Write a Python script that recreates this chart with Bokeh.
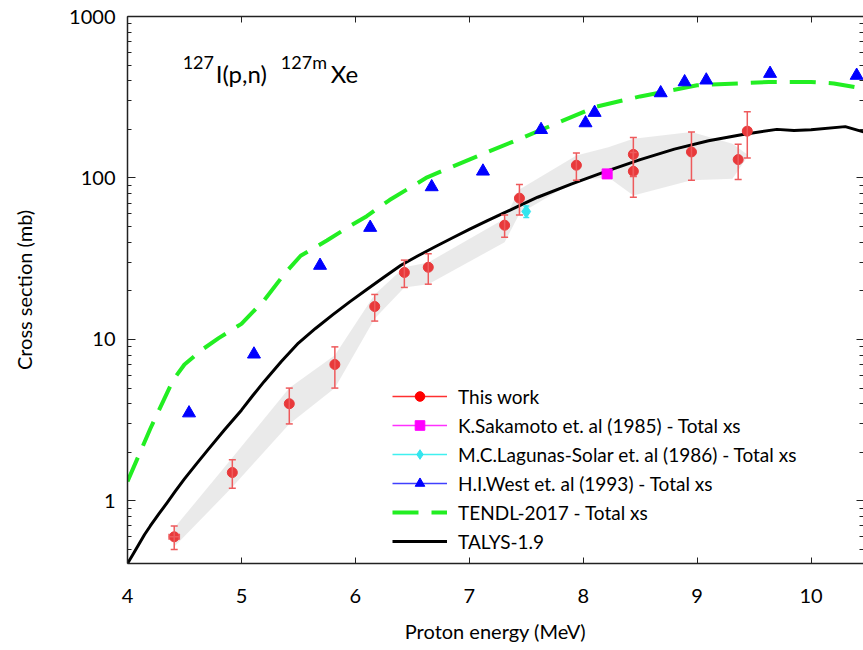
from bokeh.plotting import figure
from bokeh.models import (ColumnDataSource, Whisker, TeeHead, FixedTicker, LinearAxis, LogAxis,
                          CustomJSTickFormatter, Legend, LegendItem, Label, Range1d)
from bokeh.embed import file_html
from bokeh.resources import INLINE

# ---------------- data ----------------
this_work_x = [4.41, 4.92, 5.42, 5.82, 6.17, 6.43, 6.64, 7.31, 7.44, 7.94, 8.44, 8.44, 8.95, 9.36, 9.44]
this_work_y = [0.60, 1.5, 4.0, 7.0, 16.0, 26.0, 28.0, 51.0, 75.0, 120.0, 140.0, 110.0, 145.0, 130.0, 195.0]
this_work_err = [0.1, 0.3, 1.0, 2.0, 3.0, 5.0, 6.0, 8.0, 16.0, 23.0, 38.0, 34.0, 48.0, 32.0, 62.0]
this_work_xerr = [0.045, 0, 0, 0, 0, 0, 0, 0, 0, 0, 0, 0, 0, 0, 0]

band_x = [4.41, 4.92, 5.42, 5.82, 6.17, 6.43, 6.64, 7.31, 7.44, 7.94, 8.22, 8.44, 8.95, 9.31, 9.44]
band_lo = [0.52, 1.22, 3.0, 5.0, 13.5, 21.0, 22.0, 40.0, 60.0, 97.0, 101.0, 78.0, 97.0, 99.0, 135.0]
band_hi = [0.68, 1.85, 5.0, 8.0, 19.0, 28.0, 30.0, 56.0, 85.0, 138.0, 155.0, 175.0, 193.0, 163.0, 140.0]

sakamoto_x = [8.21]
sakamoto_y = [106.0]
sakamoto_err = [5.0]

lagunas_x = [7.50]
lagunas_y = [62.0]
lagunas_err = [5.0]

west_x = [4.54, 5.11, 5.69, 6.13, 6.67, 7.12, 7.63, 8.02, 8.10, 8.68, 8.89, 9.08, 9.64, 10.40]
west_y = [3.5, 8.1, 28.7, 49.3, 88.0, 110.0, 199.0, 219.0, 254.0, 336.0, 393.0, 403.0, 443.0, 431.0]

tendl_x = [4.0, 4.2, 4.4, 4.5, 4.65, 4.8, 5.0, 5.2, 5.38, 5.52, 5.75, 5.96, 6.1, 6.3, 6.63, 7.0,
           7.48, 8.11, 8.5, 9.0, 9.63, 10.0, 10.2, 10.47]
tendl_y = [1.32, 2.8, 5.6, 7.0, 8.6, 10.2, 12.5, 17.5, 25.6, 33.0, 41.0, 50.8, 58.0, 73.0, 101.0, 130.0,
           179.0, 276.0, 320.0, 375.0, 393.0, 393.0, 385.0, 357.0]

talys_x = [4.0, 4.05, 4.1, 4.15, 4.2, 4.28, 4.35, 4.42, 4.5, 4.6, 4.7, 4.85, 5.0, 5.1, 5.2, 5.35,
           5.5, 5.65, 5.8, 5.95, 6.1, 6.25, 6.4, 6.55, 6.7, 6.85, 7.0, 7.15, 7.3, 7.45, 7.6, 7.9,
           8.2, 8.5, 8.8, 9.1, 9.4, 9.7, 9.85, 10.0, 10.3, 10.47]
talys_y = [0.41, 0.47, 0.54, 0.62, 0.70, 0.84, 0.98, 1.15, 1.37, 1.68, 2.05, 2.75, 3.65, 4.5, 5.5, 7.3,
           9.5, 11.7, 14.2, 17.1, 20.4, 24.3, 28.8, 33.0, 37.5, 42.5, 48.0, 54.0, 60.5, 68.0, 76.0, 92.0,
           110.0, 130.0, 151.0, 170.0, 186.0, 200.0, 197.0, 199.0, 208.0, 192.0]

x_ticks = [4, 5, 6, 7, 8, 9, 10]
y_ticks = [1, 10, 100, 1000]
y_minor = [m * d for d in (0.1, 1, 10, 100) for m in range(2, 10)]

FONT = "Lato"
NAN = float("nan")

# ---------------- figure ----------------
p = figure(width=863, height=650, y_axis_type="log",
           x_range=Range1d(4, 10.46), y_range=Range1d(0.41, 1000),
           output_backend="svg", toolbar_location=None,
           min_border_left=127, min_border_right=0, min_border_top=16, min_border_bottom=87)
p.outline_line_color = None
p.xgrid.visible = False
p.ygrid.visible = False

# band
p.varea(x=band_x, y1=band_lo, y2=band_hi, fill_color="#E8E8E8", fill_alpha=0.9, level="underlay")

# curves
tendl_r = p.line(tendl_x, tendl_y, line_color="#22EE22", line_width=4, line_dash="26 13")
talys_r = p.line(talys_x, talys_y, line_color="black", line_width=3, line_join="round")

# error bars
red = "#E8393B"
red_err = "#EE5A5C"
tw_src = ColumnDataSource(dict(
    x=this_work_x, y=this_work_y,
    upper=[y + e for y, e in zip(this_work_y, this_work_err)],
    lower=[y - e for y, e in zip(this_work_y, this_work_err)],
))
p.add_layout(Whisker(source=tw_src, base="x", upper="upper", lower="lower", dimension="height",
                     line_color=red_err, line_width=1.5, level="glyph",
                     upper_head=TeeHead(size=7, line_color=red_err, line_width=1.5),
                     lower_head=TeeHead(size=7, line_color=red_err, line_width=1.5)))
xe = [(x, y, e) for x, y, e in zip(this_work_x, this_work_y, this_work_xerr) if e > 0]
txe_src = ColumnDataSource(dict(y=[v[1] for v in xe], left=[v[0] - v[2] for v in xe],
                                right=[v[0] + v[2] for v in xe]))
p.add_layout(Whisker(source=txe_src, base="y", upper="right", lower="left", dimension="width",
                     line_color=red_err, line_width=1.5, level="glyph",
                     upper_head=TeeHead(size=6, line_color=red_err, line_width=1.5),
                     lower_head=TeeHead(size=6, line_color=red_err, line_width=1.5)))

cyan = "#33E5EE"
lg_src = ColumnDataSource(dict(x=lagunas_x,
                               upper=[y + e for y, e in zip(lagunas_y, lagunas_err)],
                               lower=[y - e for y, e in zip(lagunas_y, lagunas_err)]))
p.add_layout(Whisker(source=lg_src, base="x", upper="upper", lower="lower", dimension="height",
                     line_color=cyan, line_width=1.5, level="glyph",
                     upper_head=TeeHead(size=6, line_color=cyan, line_width=1.5),
                     lower_head=TeeHead(size=6, line_color=cyan, line_width=1.5)))

# markers
p.scatter("x", "y", source=tw_src, marker="circle", size=10, fill_color=red, line_color=red)
p.scatter(sakamoto_x, sakamoto_y, marker="square", size=10, fill_color="#FF00FF", line_color="#FF00FF")
p.scatter(lagunas_x, lagunas_y, marker="diamond", size=13, fill_color=cyan, line_color=cyan)
p.scatter(west_x, west_y, marker="triangle", size=13, fill_color="#0000FF", line_color="#0000FF")

# legend-only glyphs (NaN data: nothing drawn in the plot)
def leg_line(color):
    return p.line([NAN], [NAN], line_color=color, line_width=1.5)

def leg_marker(marker, size, color):
    return p.scatter([NAN], [NAN], marker=marker, size=size, fill_color=color, line_color=color)

legend = Legend(items=[
    LegendItem(label="This work", renderers=[leg_line("#FF3030"), leg_marker("circle", 12, "#FF0000")]),
    LegendItem(label="K.Sakamoto et. al (1985) - Total xs",
               renderers=[leg_line("#FF30FF"), leg_marker("square", 9, "#FF00FF")]),
    LegendItem(label="M.C.Lagunas-Solar et. al (1986) - Total xs",
               renderers=[leg_line("#40F0F0"), leg_marker("diamond", 10, cyan)]),
    LegendItem(label="H.I.West et. al (1993) - Total xs",
               renderers=[leg_line("#4040FF"), leg_marker("triangle", 10, "#0000FF")]),
    LegendItem(label="TENDL-2017 - Total xs", renderers=[tendl_r]),
    LegendItem(label="TALYS-1.9", renderers=[talys_r]),
], location=(265, 10))
legend.border_line_color = None
legend.background_fill_alpha = 0
legend.padding = 5
legend.margin = 0
legend.spacing = 5
legend.glyph_width = 55
legend.glyph_height = 24
legend.label_height = 24
legend.label_standoff = 11
legend.label_text_font = FONT
legend.label_text_font_size = "19px"
legend.label_text_color = "black"
p.add_layout(legend)

# ---------------- axes ----------------
axis_color = "#222222"
xa = p.xaxis[0]
xa.ticker = FixedTicker(ticks=x_ticks)
xa.axis_label = "Proton energy (MeV)"
xa.major_tick_in = 6
xa.major_tick_out = 0
xa.minor_tick_in = 0
xa.minor_tick_out = 0
xa.axis_line_width = 1.5
xa.axis_line_color = axis_color
xa.major_tick_line_color = axis_color
xa.major_label_standoff = 25
xa.axis_label_standoff = 13

ya = p.yaxis[0]
ya.ticker = FixedTicker(ticks=y_ticks, minor_ticks=y_minor)
ya.formatter = CustomJSTickFormatter(code="return String(Math.round(tick));")
ya.axis_label = "Cross section (mb)"
ya.major_tick_in = 8
ya.major_tick_out = 0
ya.minor_tick_in = 4
ya.minor_tick_out = 0
ya.axis_line_width = 1.5
ya.axis_line_color = axis_color
ya.major_tick_line_color = axis_color
ya.minor_tick_line_color = axis_color
ya.major_label_standoff = 12
ya.axis_label_standoff = 30

for ax in (xa, ya):
    ax.major_label_text_font = FONT
    ax.major_label_text_font_size = "20px"
    ax.major_label_text_color = "black"
    ax.axis_label_text_font = FONT
    ax.axis_label_text_font_size = "20px"
    ax.axis_label_text_font_style = "normal"
    ax.axis_label_text_color = "black"

blank = CustomJSTickFormatter(code="return '';")
top = LinearAxis(ticker=FixedTicker(ticks=x_ticks), formatter=blank,
                 major_tick_in=6, major_tick_out=0, minor_tick_in=0, minor_tick_out=0,
                 axis_line_width=1.5, axis_line_color=axis_color, major_tick_line_color=axis_color,
                 major_label_standoff=0, major_label_text_font_size="0px")
p.add_layout(top, "above")

right = LogAxis(ticker=FixedTicker(ticks=y_ticks, minor_ticks=y_minor), formatter=blank,
                major_tick_in=7, major_tick_out=0, minor_tick_in=4, minor_tick_out=0,
                axis_line_color=None, major_tick_line_color=axis_color, minor_tick_line_color=axis_color,
                major_label_standoff=0, major_label_text_font_size="0px")
p.add_layout(right, "right")

# ---------------- reaction title ----------------
for txt, x, y, size in [("127", 4.484, 520, "18px"), ("I(p,n)", 4.774, 443, "24px"),
                        ("127m", 5.346, 520, "18px"), ("Xe", 5.785, 443, "24px")]:
    p.add_layout(Label(x=x, y=y, text=txt, text_font=FONT, text_font_size=size,
                       text_color="black", text_baseline="alphabetic", text_align="left"))

open("out.html", "w").write(file_html(p, INLINE))
